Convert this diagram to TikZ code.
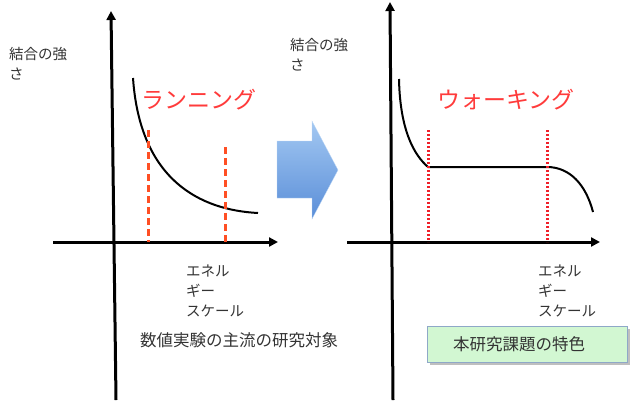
\documentclass[tikz,border=0pt]{standalone}
\usepackage{fontspec}
\newfontfamily\jp{Noto Sans CJK JP}
\usetikzlibrary{arrows.meta}
\definecolor{lbl}{HTML}{FF3B3B}
\definecolor{dashc}{HTML}{FF4F24}
\definecolor{dotc}{HTML}{F0202A}
\definecolor{txt}{HTML}{333333}
\definecolor{boxg}{HTML}{D2F7D2}
\definecolor{boxb}{HTML}{8FA8C8}
\definecolor{arrt}{HTML}{A3C8F2}
\definecolor{arrb}{HTML}{5A8ED8}
\tikzset{
  axis/.style={line width=3pt,-{Triangle[length=9pt,width=9pt]}},
  curve/.style={line width=2pt},
  dashln/.style={dashc,line width=3pt,dash pattern=on 7pt off 4pt},
  dotln/.style={dotc,line width=3pt,dash pattern=on 2pt off 2pt},
  big/.style={font=\jp\fontsize{23}{26}\selectfont,text=lbl,anchor=west,inner sep=0pt},
  small/.style={font=\jp\fontsize{14.5}{20}\selectfont,text=txt,anchor=west,inner sep=0pt,align=left},
  mid/.style={font=\jp\fontsize{16.5}{20}\selectfont,text=txt,inner sep=0pt},
}
\begin{document}
\begin{tikzpicture}[x=1pt,y=-1pt]
\useasboundingbox (0,0) rectangle (640,400);
% left chart
\coordinate (lb) at (116,400);
\coordinate (lt) at (111,11);
\coordinate (lh0) at (53,242);
\coordinate (lh1) at (278,242);
\draw[axis] (lb) -- (lt);
\draw[axis] (lh0) -- (lh1);
\draw[curve] (133,78) .. controls (140,180) and (200,210) .. (258,213);
\coordinate (d1t) at (148,130); \coordinate (d1b) at (148,242);
\coordinate (d2t) at (225,147); \coordinate (d2b) at (225,242);
\draw[dashln] (d1t) -- (d1b);
\draw[dashln] (d2t) -- (d2b);
\node[big] (run) at (141,100) {ランニング};
\node[small] (yl) at (9,64) {結合の強\\さ};
\node[small] (xl) at (186,291) {エネル\\ギー\\スケール};
\node[mid,anchor=west] (cap1) at (140,340) {数値実験の主流の研究対象};
% arrow
\shade[top color=arrt, bottom color=arrb, draw=arrt!70!white, line width=0.3pt]
  (277,141) -- (312,141) -- (312,121) -- (338,170) -- (312,219) -- (312,198) -- (277,198) -- cycle;
% right chart
\coordinate (rb) at (393,400);
\coordinate (rt) at (390,2);
\coordinate (rh0) at (347,242);
\coordinate (rh1) at (600,242);
\draw[axis] (rb) -- (rt);
\draw[axis] (rh0) -- (rh1);
\draw[curve] (399,79) .. controls (400,130) and (414,155) .. (428,167) -- (547,167) .. controls (570,167) and (586,185) .. (593,212);
\coordinate (r1t) at (428,130); \coordinate (r1b) at (428,242);
\coordinate (r2t) at (547,130); \coordinate (r2b) at (547,242);
\draw[dotln] (r1t) -- (r1b);
\draw[dotln] (r2t) -- (r2b);
\node[big] (walk) at (437,100) {ウォーキング};
\node[small] (yr) at (290,55) {結合の強\\さ};
\node[small] (xr) at (538,291) {エネル\\ギー\\スケール};
\fill[black!25] (429.5,328.5) rectangle (629.5,365);
\node[mid,draw=boxb,fill=boxg,line width=0.6pt,minimum width=200pt,minimum height=36pt,anchor=north west] (box) at (427,326) {};
\node[mid,anchor=west] (cap2) at (453,344) {本研究課題の特色};
\end{tikzpicture}
\end{document}
